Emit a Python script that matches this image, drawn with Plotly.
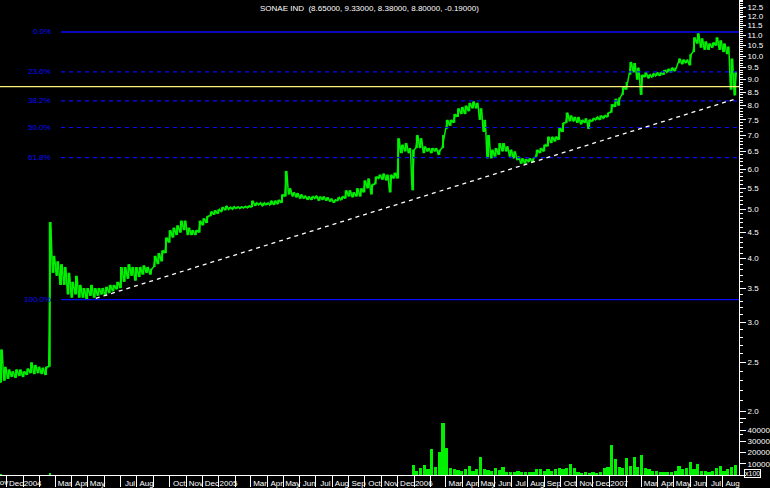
import numpy as np
import pandas as pd
import plotly.graph_objects as go

# ---------------- data (weekly) ----------------
first_week = "2003-11-21"

week_lo = [
    2.28, 2.30, 2.32, 2.34, 2.33, 2.35, 2.34, 2.36, 2.38, 2.37,
    2.38, 2.37, 2.36, 2.45, 3.75, 3.70, 3.55, 3.55, 3.40, 3.35,
    3.40, 3.35, 3.35, 3.33, 3.38, 3.35, 3.38, 3.40, 3.38, 3.42,
    3.45, 3.48, 3.50, 3.60, 3.65, 3.70, 3.62, 3.68, 3.72, 3.75,
    3.72, 3.85, 3.90, 3.95, 4.10, 4.30, 4.40, 4.45, 4.50, 4.55,
    4.45, 4.45, 4.45, 4.50, 4.65, 4.70, 4.85, 4.88, 4.90, 4.95,
    4.98, 5.00, 5.00, 5.02, 5.02, 5.03, 5.03, 5.05, 5.08, 5.10,
    5.08, 5.10, 5.10, 5.10, 5.12, 5.15, 5.30, 5.35, 5.30, 5.28,
    5.25, 5.25, 5.22, 5.22, 5.25, 5.20, 5.22, 5.20, 5.18, 5.15,
    5.20, 5.22, 5.25, 5.30, 5.28, 5.30, 5.30, 5.40, 5.50, 5.35,
    5.60, 5.75, 5.72, 5.70, 5.40, 5.75, 5.75, 6.45, 6.50, 6.45,
    5.45, 6.60, 6.60, 6.45, 6.50, 6.45, 6.50, 6.40, 6.60, 7.20,
    7.30, 7.40, 7.60, 7.70, 7.70, 7.80, 7.90, 7.90, 7.50, 7.10,
    6.30, 6.30, 6.35, 6.40, 6.50, 6.50, 6.35, 6.30, 6.25, 6.15,
    6.15, 6.20, 6.20, 6.35, 6.45, 6.50, 6.65, 6.75, 6.80, 6.85,
    7.10, 7.40, 7.45, 7.45, 7.40, 7.35, 7.40, 7.20, 7.45, 7.50,
    7.50, 7.55, 7.60, 7.75, 7.95, 8.00, 8.40, 8.60, 9.20, 9.30,
    9.00, 8.40, 9.10, 9.05, 9.10, 9.15, 9.15, 9.20, 9.30, 9.30,
    9.35, 9.70, 9.65, 9.70, 9.60, 10.20, 10.60, 10.40, 10.30, 10.30,
    10.40, 10.50, 10.30, 10.20, 10.10, 8.60, 8.38,
]

week_hi = [
    2.65, 2.45, 2.42, 2.40, 2.42, 2.42, 2.40, 2.43, 2.50, 2.47,
    2.45, 2.44, 2.45, 4.72, 4.05, 3.95, 3.90, 3.85, 3.75, 3.60,
    3.70, 3.55, 3.50, 3.50, 3.55, 3.50, 3.50, 3.50, 3.52, 3.55,
    3.55, 3.60, 3.85, 3.85, 3.90, 3.85, 3.85, 3.85, 3.88, 3.85,
    3.82, 4.05, 4.10, 4.15, 4.40, 4.55, 4.60, 4.65, 4.75, 4.75,
    4.60, 4.55, 4.55, 4.75, 4.80, 4.85, 4.95, 4.98, 5.00, 5.05,
    5.08, 5.05, 5.06, 5.06, 5.06, 5.07, 5.08, 5.20, 5.15, 5.15,
    5.15, 5.15, 5.20, 5.20, 5.22, 5.35, 5.95, 5.50, 5.40, 5.38,
    5.35, 5.32, 5.30, 5.30, 5.32, 5.30, 5.30, 5.28, 5.25, 5.22,
    5.28, 5.30, 5.45, 5.45, 5.40, 5.50, 5.50, 5.70, 5.75, 5.60,
    5.80, 5.85, 5.88, 5.85, 5.85, 5.90, 6.90, 6.70, 6.75, 6.60,
    6.55, 7.00, 6.90, 6.65, 6.60, 6.60, 6.60, 6.55, 7.00, 7.50,
    7.50, 7.70, 7.90, 7.95, 8.00, 8.10, 8.15, 8.10, 7.90, 7.50,
    7.00, 6.55, 6.60, 6.75, 6.75, 6.65, 6.55, 6.50, 6.35, 6.30,
    6.28, 6.30, 6.30, 6.55, 6.60, 6.70, 6.95, 6.95, 6.95, 7.25,
    7.40, 7.75, 7.65, 7.60, 7.60, 7.50, 7.55, 7.50, 7.55, 7.60,
    7.65, 7.65, 7.75, 8.05, 8.25, 8.30, 8.70, 8.90, 9.75, 9.70,
    9.50, 9.20, 9.30, 9.20, 9.25, 9.30, 9.30, 9.40, 9.45, 9.50,
    9.50, 9.90, 9.85, 9.85, 10.10, 10.90, 11.10, 10.85, 10.70, 10.60,
    10.65, 10.90, 10.75, 10.60, 10.45, 9.90, 9.33,
]

# volume (x100); the series starts trading regularly in week 110
volume_first_week = 110
volume = [
    9000, 4000, 6000, 9000, 5000, 23500, 7000, 21000, 46000, 24500,
    6500, 5000, 4500, 4000, 5000, 8000, 4000, 5000, 16500, 5500,
    4500, 4000, 6000, 4500, 7000, 3000, 2500, 3000, 3500, 2500,
    3000, 2500, 3000, 5000, 5500, 4000, 5000, 4000, 5000, 6500,
    5000, 6000, 10000, 6500, 3000, 2000, 2500, 2000, 2500, 2000,
    3000, 6000, 7000, 27000, 14000, 7000, 6000, 15500, 8000, 16500,
    7000, 17500, 6000, 5000, 3500, 4000, 2500, 2500, 3000, 2500,
    4000, 8000, 5000, 6000, 11500, 5000, 10000, 4000, 3500, 3000,
    4000, 6500, 8500, 4000, 5500, 7500, 9000,
]
early_volume_dates = ["2003-11-21", "2004-02-20"]
early_volume = [1000, 1500]

title_text = "SONAE IND  (8.65000, 9.33000, 8.38000, 8.80000, -0.19000)"

# Fibonacci retracement
fib_high = 11.17
fib_low = 3.32
fib_levels = [0.0, 23.6, 38.2, 50.0, 61.8, 100.0]
fib_start = "2004-03-12"

# trend line and horizontal reference line
trend_dates = ["2004-05-16", "2007-08-27"]
trend_values = [3.34, 8.26]
ref_level = 8.72

x_start, x_end = "2003-11-19", "2007-08-31"

month_starts = ["2003-12-01", "2004-01-01", "2004-03-01", "2004-04-01", "2004-05-01",
                "2004-07-01", "2004-08-01", "2004-10-01", "2004-11-01", "2004-12-01",
                "2005-01-01", "2005-03-01", "2005-04-01", "2005-05-01", "2005-06-01",
                "2005-07-01", "2005-08-01", "2005-09-01", "2005-10-01", "2005-11-01",
                "2005-12-01", "2006-01-01", "2006-03-01", "2006-04-01", "2006-05-01",
                "2006-06-01", "2006-07-01", "2006-08-01", "2006-09-01", "2006-10-01",
                "2006-11-01", "2006-12-01", "2007-01-01", "2007-03-01", "2007-04-01",
                "2007-05-01", "2007-06-01", "2007-07-01", "2007-08-01"]
month_labels = ["Dec", "2004", "Mar", "Apr", "May", "Jul", "Aug", "Oct", "Nov", "Dec",
                "2005", "Mar", "Apr", "May", "Jun", "Jul", "Aug", "Sep", "Oct", "Nov",
                "Dec", "2006", "Mar", "Apr", "May", "Jun", "Jul", "Aug", "Sep", "Oct",
                "Nov", "Dec", "2007", "Mar", "Apr", "May", "Jun", "Jul", "Aug"]
first_month_label = "Nov"

price_ticks = [2.0, 2.5, 3.0, 3.5, 4.0, 4.5, 5.0, 5.5, 6.0, 6.5, 7.0, 7.5, 8.0,
               8.5, 9.0, 9.5, 10.0, 10.5, 11.0, 11.5, 12.0, 12.5]
volume_ticks = [0, 10000, 20000, 30000, 40000, 50000]
volume_tick_labels = ["", "10000", "20000", "30000", "40000", ""]

# ---------------- styling ----------------
GREEN = "#00f000"
BLUE = "#0a0aff"
FONT = "Liberation Sans"

dates = pd.date_range(first_week, periods=len(week_lo), freq="7D")

fig = go.Figure()

# price: zig-zag through weekly lows/highs plus vertical high-low bars
zx, zy = [], []
for d, lo, hi in zip(dates, week_lo, week_hi):
    zx += [d - pd.Timedelta(days=2), d + pd.Timedelta(days=2)]
    zy += [lo, hi]
fig.add_trace(go.Scatter(x=zx, y=zy, mode="lines", line=dict(color=GREEN, width=1.5),
                         hoverinfo="skip", showlegend=False))
xs, ys = [], []
for d, lo, hi in zip(dates, week_lo, week_hi):
    xs += [d, d, None]
    ys += [lo, hi, None]
fig.add_trace(go.Scatter(x=xs, y=ys, mode="lines", line=dict(color=GREEN, width=2),
                         hoverinfo="skip", showlegend=False))

# horizontal reference line
fig.add_trace(go.Scatter(x=[x_start, x_end], y=[ref_level, ref_level], mode="lines",
                         line=dict(color="#fff27a", width=1.2), showlegend=False))

# fibonacci lines
for lev in fib_levels:
    val = fib_high - (fib_high - fib_low) * lev / 100.0
    solid = lev in (0.0, 100.0)
    fig.add_trace(go.Scatter(
        x=[fib_start, x_end], y=[val, val], mode="lines", showlegend=False,
        line=dict(color=BLUE, width=1.6 if lev == 0.0 else 1.2,
                  dash="solid" if solid else "4px,4px")))
    fig.add_annotation(x=53 / 740, xref="paper", y=np.log10(val), yref="y",
                       text=f"{lev:.1f}%", showarrow=False, xanchor="right",
                       yanchor="middle", font=dict(color=BLUE, size=8, family=FONT))

# trend line
fig.add_trace(go.Scatter(x=trend_dates, y=trend_values, mode="lines", showlegend=False,
                         line=dict(color="white", width=1.3, dash="4px,4px")))

# volume
fig.add_trace(go.Bar(x=list(dates[volume_first_week:]), y=volume, yaxis="y2",
                     marker=dict(color=GREEN, line=dict(width=0)),
                     width=6 * 86400000, showlegend=False))
fig.add_trace(go.Bar(x=early_volume_dates, y=early_volume, yaxis="y2",
                     marker=dict(color=GREEN, line=dict(width=0)),
                     width=4 * 86400000, showlegend=False))

tick_centres = [pd.Timestamp(m) + pd.Timedelta(days=18) for m in month_starts]
all_month_starts = pd.date_range("2003-12-01", "2007-08-01", freq="MS")

fig.update_layout(
    width=770, height=488,
    margin=dict(l=0, r=30, t=0, b=11),
    paper_bgcolor="black", plot_bgcolor="black",
    font=dict(family=FONT, color="white", size=8),
    bargap=0,
    xaxis=dict(type="date", range=[x_start, x_end], showgrid=False, zeroline=False,
               showline=True, linecolor="white", linewidth=1,
               tickvals=tick_centres, ticktext=month_labels, ticks="",
               tickangle=0, ticklabelstandoff=0,
               tickfont=dict(color="white", size=8, family=FONT),
               minor=dict(tickvals=list(all_month_starts), ticks="outside",
                          ticklen=11, tickcolor="white", tickwidth=1)),
    yaxis=dict(type="log", range=[0.1762, 1.1109], side="right", showgrid=False,
               zeroline=False, showline=True, linecolor="white", linewidth=1,
               tickvals=price_ticks, ticktext=[f"{t:.1f}" for t in price_ticks],
               ticks="outside", ticklen=6, tickcolor="white",
               tickfont=dict(color="white", size=8, family=FONT),
               minor=dict(tickvals=[round(v, 1) for v in np.arange(1.8, 12.95, 0.1)],
                          ticks="outside", ticklen=3, tickcolor="white")),
    yaxis2=dict(domain=[0, 0.118], anchor="x", side="right", range=[0, 50000],
                showgrid=False, zeroline=False, showline=False,
                tickvals=volume_ticks, ticktext=volume_tick_labels,
                ticks="outside", ticklen=6, tickcolor="white",
                tickfont=dict(color="white", size=8, family=FONT)),
)

fig.add_annotation(x=0.5, xref="paper", y=1, yref="paper", yanchor="top", yshift=-2,
                   text=title_text, showarrow=False,
                   font=dict(color="white", size=8, family=FONT))
fig.add_annotation(x=10 / 740, xref="paper", xanchor="right", y=0, yref="paper",
                   yanchor="top", yshift=-1, text=first_month_label, showarrow=False,
                   font=dict(color="white", size=8, family=FONT))
fig.add_annotation(x=1, xref="paper", xanchor="left", xshift=5, y=0, yref="paper",
                   yanchor="middle", yshift=2, text="x100", showarrow=False,
                   bordercolor="white", borderwidth=1, borderpad=0,
                   font=dict(color="white", size=7, family=FONT))

fig.write_html("out.html", config={"displayModeBar": False},
               post_script="document.body.style.margin='0';document.body.style.overflow='hidden';")
